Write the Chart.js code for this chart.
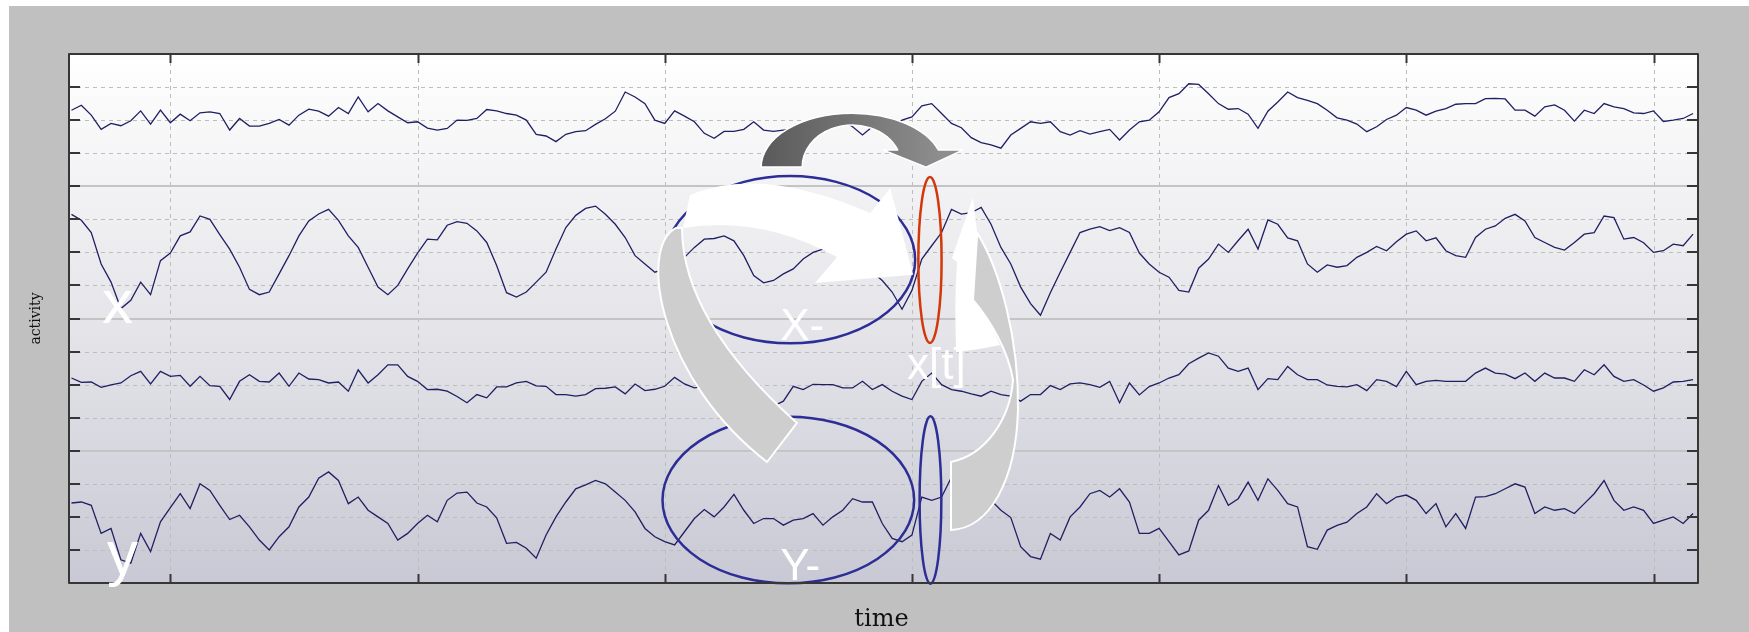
<!DOCTYPE html>
<html>
<head>
<meta charset="utf-8">
<title>activity over time</title>
<script src="https://cdn.jsdelivr.net/npm/chart.js@4.4.0/dist/chart.umd.min.js"></script>
<style>
  html, body { margin: 0; padding: 0; background: #ffffff; }
  #wrap { position: relative; width: 1749px; height: 632px; overflow: hidden; }
  #panel { position: absolute; left: 9px; top: 6px; right: 0; bottom: 0; background: #c0c0c0; }
  #chart { position: absolute; left: 0; top: 0; }
</style>
</head>
<body>
<div id="wrap"><div id="panel"></div><canvas id="chart" width="1749" height="632"></canvas></div>
<script>
// Time axis: one sample every 4 steps, starting at t = -40
const tStart = -40;
const tStep = 4;

// Grid / tick values
const xTicks = [0, 100, 200, 300, 400, 500, 600];
const yTicks = [1, 2, 3, 4, 5, 6, 7, 8, 9, 10, 11, 12, 13, 14, 15];
const solidTicks = [4, 8, 12];

// Four activity traces (top to bottom)
const series1 = [
    14.3, 14.45, 14.15, 13.72, 13.9, 13.83, 13.98, 14.28, 13.88, 14.3,
    13.92, 14.18, 13.98, 14.22, 14.25, 14.2, 13.7, 14.05, 13.82, 13.82,
    13.9, 14.02, 13.85, 14.15, 14.33, 14.27, 14.12, 14.38, 14.2, 14.7,
    14.25, 14.5, 14.28, 14.1, 13.92, 13.95, 13.76, 13.7, 13.75, 14.0,
    13.99, 14.05, 14.32, 14.28, 14.2, 14.15, 14.0, 13.57, 13.52, 13.35,
    13.57, 13.65, 13.68, 13.87, 14.04, 14.27, 14.85, 14.7, 14.5, 14.0,
    13.9, 14.28, 14.12, 13.95, 13.6, 13.45, 13.66, 13.66, 13.72, 13.95,
    13.7, 13.66, 13.7, 13.72, 13.75, 13.8, 13.75, 13.85, 14.0, 13.8,
    13.55, 13.8, 13.7, 13.75, 14.0, 14.1, 14.43, 14.5, 14.2, 13.9,
    13.77, 13.47, 13.32, 13.25, 13.15, 13.55, 13.75, 13.95, 13.9, 13.95,
    13.65, 13.55, 13.68, 13.58, 13.65, 13.72, 13.4, 13.7, 13.95, 14.0,
    14.25, 14.68, 14.8, 15.1, 15.08, 14.8, 14.5, 14.33, 14.35, 14.18,
    13.75, 14.27, 14.55, 14.85, 14.68, 14.6, 14.5, 14.3, 14.07, 14.0,
    13.88, 13.65, 13.8, 14.02, 14.15, 14.38, 14.3, 14.15, 14.27, 14.35,
    14.48, 14.5, 14.5, 14.65, 14.66, 14.64, 14.3, 14.3, 14.12, 14.4,
    14.46, 14.3, 13.97, 14.3, 14.2, 14.5, 14.4, 14.35, 14.22, 14.2,
    14.28, 13.96, 14.0, 14.05, 14.2
];
const series2 = [
    11.15, 10.97, 10.6, 9.65, 9.1, 8.3, 8.55, 9.1, 8.72, 9.75,
    9.98, 10.5, 10.62, 11.1, 11.0, 10.54, 10.1, 9.55, 8.88, 8.72,
    8.8, 9.35, 9.9, 10.5, 10.95, 11.16, 11.3, 10.97, 10.5, 10.15,
    9.55, 8.95, 8.72, 9.0, 9.5, 9.98, 10.4, 10.38, 10.82, 10.93,
    10.88, 10.65, 10.3, 9.6, 8.78, 8.65, 8.8, 9.1, 9.4, 10.1,
    10.75, 11.12, 11.33, 11.4, 11.15, 10.85, 10.45, 9.9, 9.65, 9.4,
    9.5, 9.7, 9.85, 10.15, 10.4, 10.42, 10.5, 10.35, 9.9, 9.3,
    9.08, 9.15, 9.35, 9.5, 9.8, 10.0, 10.1, 10.0, 9.85, 9.7,
    9.55, 9.4, 9.15, 8.8, 8.28, 8.85, 9.8, 10.2, 10.6, 11.3,
    11.16, 11.2, 11.36, 10.85, 10.15, 9.65, 8.95, 8.45, 8.1, 8.78,
    9.4, 10.0, 10.6, 10.7, 10.78, 10.66, 10.75, 10.6, 9.98, 9.65,
    9.4, 9.25, 8.85, 8.8, 9.52, 9.8, 10.25, 10.0, 10.36, 10.7,
    10.1, 10.98, 10.85, 10.44, 10.35, 9.65, 9.4, 9.62, 9.55, 9.6,
    9.85, 10.0, 10.18, 10.05, 10.32, 10.55, 10.65, 10.35, 10.44, 10.05,
    9.9, 9.85, 10.45, 10.7, 10.8, 11.03, 11.15, 10.95, 10.45, 10.3,
    10.15, 10.07, 10.3, 10.55, 10.6, 11.1, 11.05, 10.4, 10.45, 10.29,
    10.0, 10.05, 10.25, 10.2, 10.55
];
const series3 = [
    6.2, 6.07, 6.08, 5.92, 5.99, 6.05, 6.27, 6.4, 6.02, 6.4,
    6.25, 6.28, 5.95, 6.25, 5.97, 5.95, 5.55, 6.1, 6.3, 6.1,
    6.08, 6.35, 5.95, 6.35, 6.17, 6.15, 6.05, 6.08, 5.8, 6.45,
    6.05, 6.3, 6.6, 6.6, 6.25, 6.1, 5.85, 5.86, 5.8, 5.64,
    5.45, 5.7, 5.6, 5.93, 5.93, 6.05, 6.1, 5.96, 5.95, 5.7,
    5.7, 5.65, 5.7, 5.88, 5.89, 5.93, 5.72, 6.02, 5.82, 5.86,
    5.95, 6.22, 6.02, 5.9, 5.95, 6.05, 5.9, 5.95, 5.85, 5.7,
    5.5, 5.35, 5.5, 5.95, 5.85, 6.01, 6.0, 6.0, 5.9, 5.9,
    6.1, 5.85, 6.0, 5.8, 5.65, 5.55, 6.1, 6.35, 6.0, 5.85,
    5.8, 5.72, 5.65, 5.8, 5.7, 5.65, 5.5, 5.7, 5.7, 5.97,
    5.85, 6.02, 6.05, 6.0, 5.92, 6.1, 5.45, 6.05, 5.69, 5.94,
    6.05, 6.2, 6.3, 6.63, 6.8, 6.96, 6.86, 6.5, 6.4, 6.5,
    5.85, 6.18, 6.15, 6.55, 6.3, 6.15, 6.15, 5.99, 5.95, 5.93,
    6.0, 5.82, 6.15, 6.1, 5.94, 6.4, 6.0, 6.1, 6.13, 6.1,
    6.1, 6.1, 6.35, 6.5, 6.35, 6.32, 6.18, 6.35, 6.1, 6.35,
    6.2, 6.2, 6.1, 6.45, 6.3, 6.6, 6.25, 6.1, 6.15, 5.99,
    5.8, 5.9, 6.08, 6.1, 6.15
];
const series4 = [
    2.42, 2.45, 2.35, 1.5, 1.65, 0.7, 0.6, 1.5, 0.95, 1.85,
    2.28, 2.7, 2.25, 3.0, 2.8, 2.35, 1.92, 2.05, 1.7, 1.3,
    1.0, 1.4, 1.7, 2.3, 2.6, 3.17, 3.36, 3.1, 2.4, 2.6,
    2.2, 2.0, 1.8, 1.3, 1.5, 1.8, 2.05, 1.85, 2.5, 2.72,
    2.75, 2.42, 2.3, 1.97, 1.2, 1.23, 1.05, 0.75, 1.45, 2.0,
    2.45, 2.85, 2.97, 3.1, 3.0, 2.75, 2.5, 2.15, 1.65, 1.4,
    1.25, 1.15, 1.55, 1.95, 2.22, 2.0, 2.3, 2.68, 2.2, 1.8,
    1.95, 1.95, 1.75, 1.9, 1.95, 2.1, 1.75, 2.0, 2.2, 2.55,
    2.45, 2.45, 1.8, 1.35, 1.25, 1.45, 2.6, 2.5, 2.6, 3.2,
    3.0, 2.8, 2.7, 2.5, 2.2, 1.98, 1.1, 0.8, 0.72, 1.5,
    1.3, 2.0, 2.3, 2.7, 2.8, 2.6, 2.85, 2.45, 1.5, 1.5,
    1.65, 1.25, 0.85, 0.97, 1.9, 2.2, 2.95, 2.35, 2.55, 3.05,
    2.5, 3.15, 2.8, 2.4, 2.3, 1.1, 1.02, 1.6, 1.74, 1.84,
    2.1, 2.3, 2.7, 2.4, 2.6, 2.66, 2.5, 2.1, 2.4, 1.7,
    2.1, 1.65, 2.6, 2.61, 2.7, 2.85, 3.0, 2.9, 2.1, 2.3,
    2.2, 2.25, 2.1, 2.4, 2.7, 3.1, 2.5, 2.2, 2.3, 2.2,
    1.8, 1.9, 2.0, 1.8, 2.1
];

const times = series1.map((_, i) => tStart + i * tStep);
const allSeries = [series1, series2, series3, series4];

// Annotations, in data units (time, activity)
const ellipses = [
    { t: 250.7, v: 9.78, rt: 50.6, rv: 2.53, color: '#2d2d96' },  // X-
    { t: 250.0, v: 2.51, rt: 50.9, rv: 2.52, color: '#2d2d96' },  // Y-
    { t: 307.3, v: 9.77, rt: 4.7, rv: 2.51, color: '#d2380a' },   // x[t]
    { t: 307.5, v: 2.51, rt: 4.4, rv: 2.53, color: '#2d2d96' }    // y[t]
];

// dark arc arrow from x-history over to x[t]
const darkArrow = { t: 275.8, v: 12.58, rtOut: 36.8, rvOut: 1.63, rtIn: 20.2, rvIn: 1.27,
                    endV: 13.10, headL: 288.3, headR: 320.7, tipT: 305.7, tipV: 12.58 };

const grayArrowPath = [
    ['M', 204.6, 10.74], ['C', 188.8, 10.13, 198.1, 6.14, 241.4, 3.66],
    ['L', 253.5, 4.84], ['C', 218.3, 7.20, 207.0, 9.16, 207.0, 10.74]
];
const whiteArrowPath = [
    ['M', 210.2, 11.735], ['Q', 238.6, 12.64, 283.1, 11.19],
    ['L', 291.2, 11.95], ['L', 300.5, 9.32], ['L', 260.8, 9.07],
    ['L', 269.7, 9.86], ['Q', 238.6, 11.13, 207.4, 10.74]
];
const ribbonGrayPath = [
    ['M', 315.8, 3.66], ['L', 315.8, 1.60],
    ['C', 331.6, 1.66, 342.1, 3.11, 342.9, 5.23],
    ['C', 343.4, 7.35, 335.7, 9.47, 326.4, 10.59],
    ['L', 324.7, 8.56],
    ['C', 331.6, 7.95, 338.9, 7.05, 340.9, 6.14],
    ['C', 339.7, 4.93, 329.6, 3.87, 315.8, 3.66]
];
const ribbonWhitePath = [
    ['M', 324.7, 11.67], ['L', 326.4, 10.59], ['L', 324.7, 8.56],
    ['Q', 331.6, 7.95, 335.7, 7.20], ['Q', 326.4, 7.05, 317.9, 6.99],
    ['Q', 317.1, 8.56, 318.3, 9.71], ['L', 316.2, 9.83]
];

const textLabels = [
    { text: 'x', t: -27.6, v: 7.86, size: 62 },
    { text: 'y', t: -25.6, v: 0.27, size: 62 },
    { text: 'X-', t: 246.7, v: 7.35, size: 44 },
    { text: 'Y-', t: 246.7, v: 0.09, size: 44 },
    { text: 'x[t]', t: 298.0, v: 6.16, size: 44 }
];

// Draw a path given in data units through the chart scales
function tracePath(ctx, chart, cmds) {
    const X = t => chart.scales.x.getPixelForValue(t);
    const Y = v => chart.scales.y.getPixelForValue(v);
    ctx.beginPath();
    cmds.forEach(([op, ...n]) => {
        if (op === 'M') ctx.moveTo(X(n[0]), Y(n[1]));
        else if (op === 'L') ctx.lineTo(X(n[0]), Y(n[1]));
        else if (op === 'Q') ctx.quadraticCurveTo(X(n[0]), Y(n[1]), X(n[2]), Y(n[3]));
        else if (op === 'C') ctx.bezierCurveTo(X(n[0]), Y(n[1]), X(n[2]), Y(n[3]), X(n[4]), Y(n[5]));
    });
    ctx.closePath();
}

function drawDarkArrow(ctx, chart) {
    const x = chart.scales.x, y = chart.scales.y;
    const a = darkArrow;
    const cx = x.getPixelForValue(a.t), cy = y.getPixelForValue(a.v);
    const rxo = x.getPixelForValue(a.t + a.rtOut) - cx;
    const ryo = cy - y.getPixelForValue(a.v + a.rvOut);
    const rxi = x.getPixelForValue(a.t + a.rtIn) - cx;
    const ryi = cy - y.getPixelForValue(a.v + a.rvIn);
    const yEnd = y.getPixelForValue(a.endV);
    const ao = Math.asin((cy - yEnd) / ryo);
    const ai = Math.asin((cy - yEnd) / ryi);

    ctx.beginPath();
    ctx.ellipse(cx, cy, rxo, ryo, 0, Math.PI, 2 * Math.PI - ao, false);
    ctx.lineTo(x.getPixelForValue(a.headR), yEnd);
    ctx.lineTo(x.getPixelForValue(a.tipT), y.getPixelForValue(a.tipV));
    ctx.lineTo(x.getPixelForValue(a.headL), yEnd);
    ctx.ellipse(cx, cy, rxi, ryi, 0, 2 * Math.PI - ai, Math.PI, true);
    ctx.closePath();

    const g = ctx.createLinearGradient(cx - rxo, 0, cx + rxo, 0);
    g.addColorStop(0, '#5a5a5a');
    g.addColorStop(1, '#8e8e8e');
    ctx.fillStyle = g;
    ctx.fill();
    ctx.strokeStyle = '#ffffff';
    ctx.lineWidth = 1.5;
    ctx.stroke();
}

const sketchPlugin = {
    id: 'sketch',
    beforeDatasetsDraw(chart) {
        const { ctx, chartArea: a, scales: { x, y } } = chart;
        ctx.save();
        // plot background
        const g = ctx.createLinearGradient(0, a.top, 0, a.bottom);
        g.addColorStop(0, '#ffffff');
        g.addColorStop(0.45, '#e8e8ec');
        g.addColorStop(1, '#c9c9d5');
        ctx.fillStyle = g;
        ctx.fillRect(a.left, a.top, a.right - a.left, a.bottom - a.top);

        // dashed grid
        ctx.strokeStyle = '#bdbdbd';
        ctx.lineWidth = 1;
        ctx.setLineDash([4, 4]);
        ctx.beginPath();
        xTicks.forEach(t => {
            const px = Math.round(x.getPixelForValue(t)) + 0.5;
            ctx.moveTo(px, a.top); ctx.lineTo(px, a.bottom);
        });
        yTicks.filter(v => !solidTicks.includes(v)).forEach(v => {
            const py = Math.round(y.getPixelForValue(v)) + 0.5;
            ctx.moveTo(a.left, py); ctx.lineTo(a.right, py);
        });
        ctx.stroke();

        // solid separators between traces
        ctx.setLineDash([]);
        ctx.strokeStyle = '#c4c4c4';
        ctx.lineWidth = 2;
        ctx.beginPath();
        solidTicks.forEach(v => {
            const py = Math.round(y.getPixelForValue(v));
            ctx.moveTo(a.left, py); ctx.lineTo(a.right, py);
        });
        ctx.stroke();
        ctx.restore();
    },
    afterDatasetsDraw(chart) {
        const { ctx, chartArea: a, scales: { x, y } } = chart;
        ctx.save();

        // big history ellipses
        ellipses.slice(0, 2).forEach(e => drawEllipse(ctx, chart, e));

        // arrows
        ctx.lineJoin = 'round';
        tracePath(ctx, chart, grayArrowPath);
        ctx.fillStyle = '#cecece'; ctx.fill();
        ctx.strokeStyle = '#ffffff'; ctx.lineWidth = 2; ctx.stroke();

        tracePath(ctx, chart, whiteArrowPath);
        ctx.fillStyle = '#ffffff'; ctx.fill();

        drawDarkArrow(ctx, chart);

        tracePath(ctx, chart, ribbonGrayPath);
        ctx.fillStyle = '#cecece'; ctx.fill();
        ctx.strokeStyle = '#ffffff'; ctx.lineWidth = 2; ctx.stroke();

        tracePath(ctx, chart, ribbonWhitePath);
        ctx.fillStyle = '#ffffff'; ctx.fill();

        // present-time ellipses
        ellipses.slice(2).forEach(e => drawEllipse(ctx, chart, e));

        // frame and inner ticks
        ctx.strokeStyle = '#363636';
        ctx.lineWidth = 2;
        ctx.strokeRect(a.left, a.top, a.right - a.left, a.bottom - a.top);
        ctx.beginPath();
        yTicks.forEach(v => {
            const py = Math.round(y.getPixelForValue(v));
            ctx.moveTo(a.left, py); ctx.lineTo(a.left + 11, py);
            ctx.moveTo(a.right - 11, py); ctx.lineTo(a.right, py);
        });
        xTicks.forEach(t => {
            const px = Math.round(x.getPixelForValue(t)) + 0.5;
            ctx.moveTo(px, a.top); ctx.lineTo(px, a.top + 9);
            ctx.moveTo(px, a.bottom - 9); ctx.lineTo(px, a.bottom);
        });
        ctx.stroke();

        // white labels
        ctx.fillStyle = '#ffffff';
        ctx.textAlign = 'left';
        ctx.textBaseline = 'alphabetic';
        textLabels.forEach(l => {
            ctx.font = l.size + 'px "Liberation Sans", Arial, sans-serif';
            ctx.fillText(l.text, x.getPixelForValue(l.t), y.getPixelForValue(l.v));
        });

        // axis titles
        ctx.fillStyle = '#111111';
        ctx.textAlign = 'center';
        ctx.font = '24px "DejaVu Serif", serif';
        ctx.fillText('time', (a.left + a.right) / 2 - 2, a.bottom + 43);
        ctx.save();
        ctx.translate(a.left - 33, (a.top + a.bottom) / 2);
        ctx.rotate(-Math.PI / 2);
        ctx.font = '14px "DejaVu Serif", serif';
        ctx.textBaseline = 'middle';
        ctx.fillText('activity', 0, 0);
        ctx.restore();

        ctx.restore();
    }
};

function drawEllipse(ctx, chart, e) {
    const x = chart.scales.x, y = chart.scales.y;
    const cx = x.getPixelForValue(e.t), cy = y.getPixelForValue(e.v);
    const rx = x.getPixelForValue(e.t + e.rt) - cx;
    const ry = cy - y.getPixelForValue(e.v + e.rv);
    ctx.beginPath();
    ctx.ellipse(cx, cy, rx, ry, 0, 0, 2 * Math.PI);
    ctx.strokeStyle = e.color;
    ctx.lineWidth = 2.5;
    ctx.stroke();
}

new Chart(document.getElementById('chart'), {
    type: 'line',
    data: {
        datasets: allSeries.map(s => ({
            data: s.map((v, i) => ({ x: times[i], y: v })),
            borderColor: '#1f1f63',
            borderWidth: 1.3,
            pointRadius: 0,
            tension: 0,
            fill: false
        }))
    },
    options: {
        responsive: false,
        animation: false,
        devicePixelRatio: 1,
        events: [],
        layout: { padding: { left: 69, top: 54, right: 51, bottom: 49 } },
        plugins: { legend: { display: false }, tooltip: { enabled: false } },
        scales: {
            x: { type: 'linear', min: -41, max: 618, display: false },
            y: { type: 'linear', min: 0, max: 16, display: false }
        }
    },
    plugins: [sketchPlugin]
});
</script>
</body>
</html>
